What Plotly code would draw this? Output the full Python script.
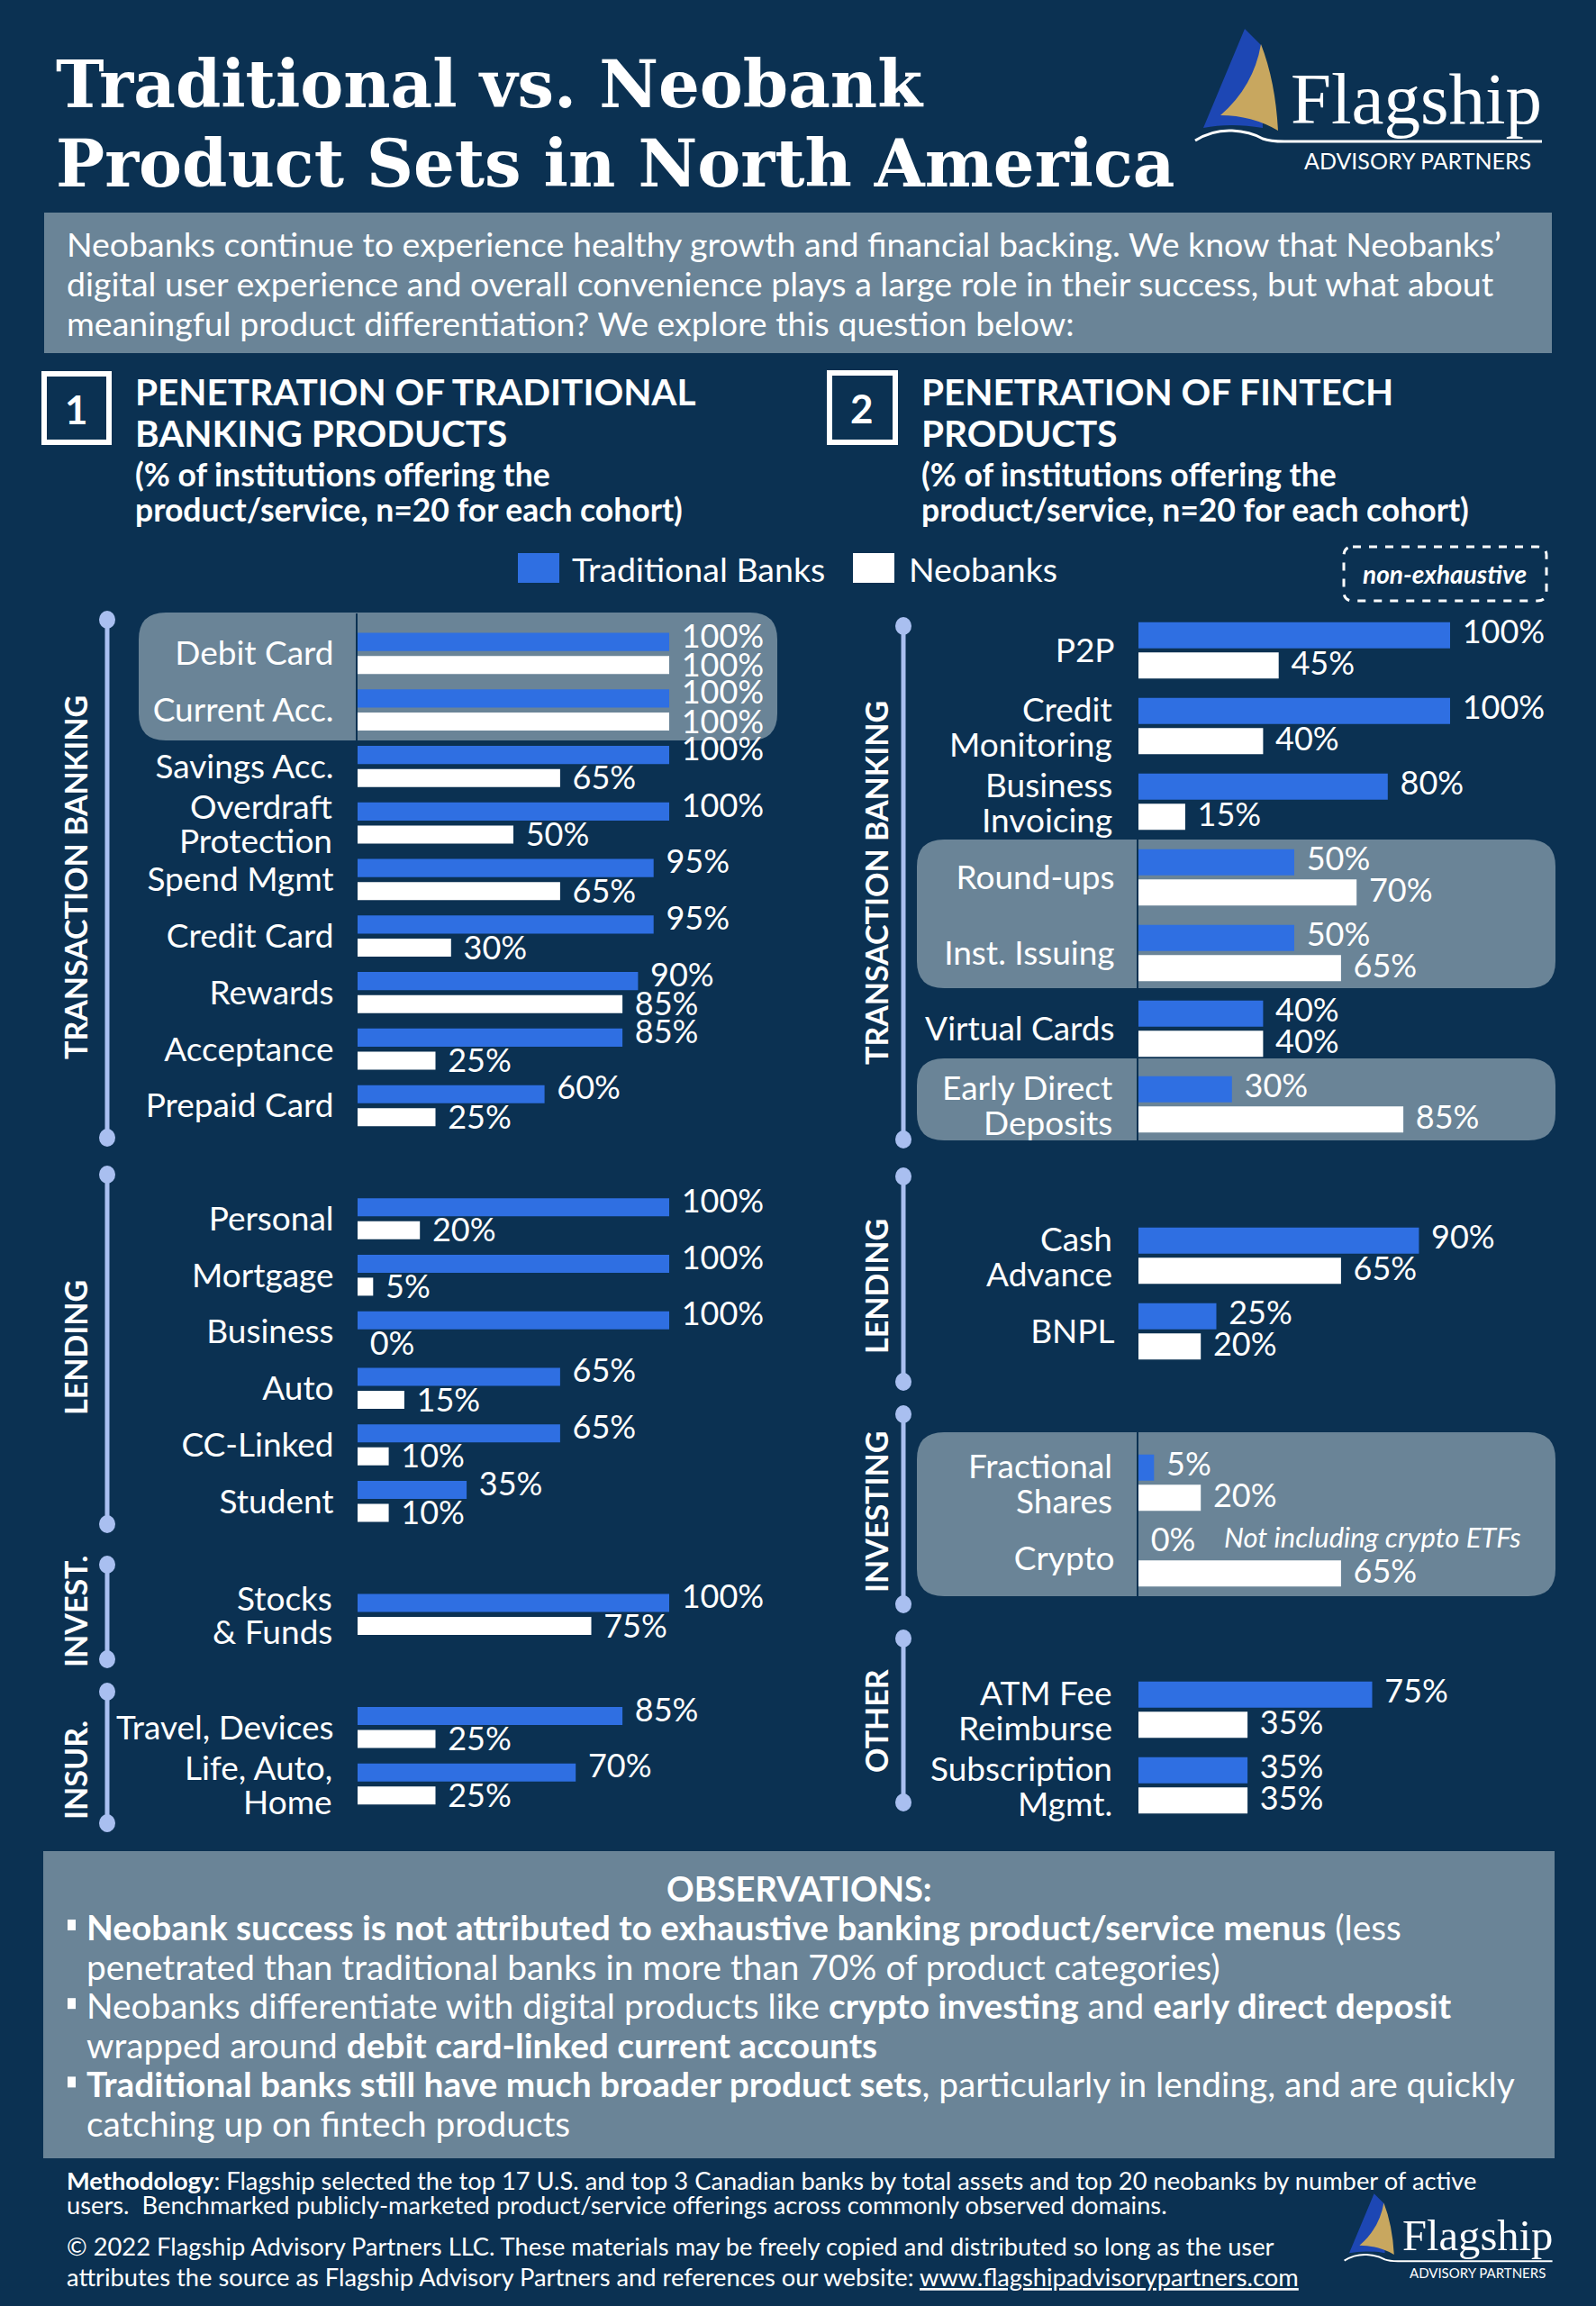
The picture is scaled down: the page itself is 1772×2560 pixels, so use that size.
import plotly.graph_objects as go

W, H = 1772, 2560
BG = "#0b3152"
SLATE = "#6a8497"
BLUE = "#2f6fe2"
NEO = "#ffffff"
LINEC = "#a9bff0"
FONT = "Lato"

# ---------------- data ----------------
left_groups = ["TRANSACTION BANKING", "LENDING", "INVEST.", "INSUR."]
left_cats = [
    ["Debit Card", "Current Acc.", "Savings Acc.", "Overdraft<br>Protection", "Spend Mgmt",
     "Credit Card", "Rewards", "Acceptance", "Prepaid Card"],
    ["Personal", "Mortgage", "Business", "Auto", "CC-Linked", "Student"],
    ["Stocks<br>& Funds"],
    ["Travel, Devices", "Life, Auto,<br>Home"],
]
left_trad = [[100, 100, 100, 100, 95, 95, 90, 85, 60],
             [100, 100, 100, 65, 65, 35],
             [100],
             [85, 70]]
left_neo = [[100, 100, 65, 50, 65, 30, 85, 25, 25],
            [20, 5, 0, 15, 10, 10],
            [75],
            [25, 25]]

right_groups = ["TRANSACTION BANKING", "LENDING", "INVESTING", "OTHER"]
right_cats = [
    ["P2P", "Credit<br>Monitoring", "Business<br>Invoicing", "Round-ups", "Inst. Issuing",
     "Virtual Cards", "Early Direct<br>Deposits"],
    ["Cash<br>Advance", "BNPL"],
    ["Fractional<br>Shares", "Crypto"],
    ["ATM Fee<br>Reimburse", "Subscription<br>Mgmt."],
]
right_trad = [[100, 100, 80, 50, 50, 40, 30],
              [90, 25],
              [5, 0],
              [75, 35]]
right_neo = [[45, 40, 15, 70, 65, 40, 85],
             [65, 20],
             [20, 65],
             [35, 35]]

series_names = ["Traditional Banks", "Neobanks"]


def X(px):
    return px / W


def Y(py):
    return 1 - py / H


def flatten(cats, trad, neo):
    pos, labels, t, n = [], [], [], []
    k = 0
    for gi, grp in enumerate(cats):
        for i, c in enumerate(grp):
            pos.append(k + gi)
            labels.append(c)
            t.append(trad[gi][i])
            n.append(neo[gi][i])
            k += 1
    return pos, labels, t, n


fig = go.Figure()
shapes = []
ann = []

VAL_SIZE = 36
CAT_SIZE = 37


def add_panel(cats, trad, neo, xa, ya, h, g, up, down, label_right_px, line_half):
    pos, labels, t, n = flatten(cats, trad, neo)
    fig.add_trace(go.Bar(orientation="h", x=t, y=pos, width=h, offset=-(g / 2 + h),
                         marker=dict(color=BLUE, line=dict(width=0)), name=series_names[0],
                         xaxis=xa, yaxis=ya, showlegend=False, hoverinfo="skip"))
    fig.add_trace(go.Bar(orientation="h", x=n, y=pos, width=h, offset=g / 2,
                         marker=dict(color=NEO, line=dict(width=0)), name=series_names[1],
                         xaxis=xa, yaxis=ya, showlegend=False, hoverinfo="skip"))
    d = g / 2 + h / 2
    fig.add_trace(go.Scatter(x=t, y=[p - d - up for p in pos], mode="text",
                             text=[f"\u2009\u00a0{v}%" for v in t], textposition="middle right",
                             textfont=dict(family=FONT, size=VAL_SIZE, color="white"),
                             cliponaxis=False, xaxis=xa, yaxis=ya, showlegend=False, hoverinfo="skip"))
    fig.add_trace(go.Scatter(x=n, y=[p + d + down for p in pos], mode="text",
                             text=[f"\u2009\u00a0{v}%" for v in n], textposition="middle right",
                             textfont=dict(family=FONT, size=VAL_SIZE, color="white"),
                             cliponaxis=False, xaxis=xa, yaxis=ya, showlegend=False, hoverinfo="skip"))
    # multi-line category labels drawn line by line (tighter line spacing than tick labels)
    ticktext = []
    for p, lab in zip(pos, labels):
        if "<br>" in lab:
            ticktext.append("")
            a, b = lab.split("<br>")
            for txt, yy in ((a, p - line_half), (b, p + line_half)):
                ann.append(dict(x=X(label_right_px), xref="paper", y=yy, yref=ya, text=txt,
                                showarrow=False, xanchor="right", yanchor="middle",
                                font=dict(family=FONT, size=CAT_SIZE, color="white")))
        else:
            ticktext.append(lab)
    return pos, ticktext


lpos, llab = add_panel(left_cats, left_trad, left_neo, "x", "y", 0.319, 0.088, 0.05, 0.06, 371, 0.30)
rpos, rlab = add_panel(right_cats, right_trad, right_neo, "x2", "y2", 0.345, 0.054, 0.0, 0.01, 1237, 0.232)


def yax(pos, labels, top_px, bottom_px, rng, anchor):
    return dict(domain=[Y(bottom_px), Y(top_px)], range=rng, anchor=anchor,
                tickvals=pos, ticktext=labels, showgrid=False, zeroline=False,
                showline=True, linecolor=BG, linewidth=2, ticks="", ticklabelstandoff=17,
                ticklabeloverflow="allow",
                tickfont=dict(family=FONT, size=CAT_SIZE, color="white"), fixedrange=True)


def xax(x0, x1, anchor):
    return dict(domain=[X(x0), X(x1)], range=[0, 100], anchor=anchor, visible=False,
                showgrid=False, zeroline=False, fixedrange=True)


# ---------------- helpers for shapes ----------------
def rrect(x0, y0, x1, y1, r, fill=None, line=None, dash=None, lw=0, layer="below"):
    p = (f"M{X(x0 + r)},{Y(y0)} L{X(x1 - r)},{Y(y0)} Q{X(x1)},{Y(y0)} {X(x1)},{Y(y0 + r)} "
         f"L{X(x1)},{Y(y1 - r)} Q{X(x1)},{Y(y1)} {X(x1 - r)},{Y(y1)} "
         f"L{X(x0 + r)},{Y(y1)} Q{X(x0)},{Y(y1)} {X(x0)},{Y(y1 - r)} "
         f"L{X(x0)},{Y(y0 + r)} Q{X(x0)},{Y(y0)} {X(x0 + r)},{Y(y0)} Z")
    s = dict(type="path", path=p, xref="paper", yref="paper", layer=layer,
             fillcolor=fill if fill else "rgba(0,0,0,0)",
             line=dict(color=line if line else "rgba(0,0,0,0)", width=lw))
    if dash:
        s["line"]["dash"] = dash
    shapes.append(s)


def rect(x0, y0, x1, y1, fill=None, line=None, lw=0, layer="below"):
    shapes.append(dict(type="rect", xref="paper", yref="paper", x0=X(x0), x1=X(x1), y0=Y(y1), y1=Y(y0),
                       fillcolor=fill if fill else "rgba(0,0,0,0)", layer=layer,
                       line=dict(color=line if line else "rgba(0,0,0,0)", width=lw)))


def text(x, y, s, size, color="white", xanchor="left", yanchor="middle", family=FONT, angle=0, **kw):
    ann.append(dict(x=X(x), y=Y(y), xref="paper", yref="paper", text=s, showarrow=False,
                    xanchor=xanchor, yanchor=yanchor, textangle=angle,
                    font=dict(family=family, size=size, color=color), **kw))


def path_shape(pts_str, fill=None, line=None, lw=0):
    shapes.append(dict(type="path", path=pts_str, xref="paper", yref="paper", layer="above",
                       fillcolor=fill if fill else "rgba(0,0,0,0)",
                       line=dict(color=line if line else "rgba(0,0,0,0)", width=lw)))


def logo(ox, oy, s):
    def P(x, y):
        return f"{X(ox + x * s)},{Y(oy + y * s)}"
    blue = f"M{P(56,2)} L{P(10,112)} Q{P(40,106)} {P(76,112)} L{P(74,20)} Z"
    gold = f"M{P(74,19)} Q{P(66,66)} {P(29,98)} Q{P(64,98)} {P(93,115)} Q{P(90,60)} {P(74,19)} Z"
    sw = f"M{P(1,126)} Q{P(20,114)} {P(42,115)} Q{P(62,116)} {P(76,124)} Q{P(84,127)} {P(100,127)} L{P(386,127)}"
    path_shape(blue, fill="#1d47b4")
    path_shape(gold, fill="#c8a75f")
    path_shape(sw, line="white", lw=max(2, 3 * s))
    text(ox + 105 * s, oy + 80 * s, "Flagship", 81 * s, family="Liberation Serif")
    text(ox + 248 * s, oy + 148 * s, "ADVISORY PARTNERS", 25 * s, xanchor="center")


# ---------------- header ----------------
text(60, 93, "<b>Traditional vs. Neobank</b>", 72, family="DejaVu Serif")
text(60, 182, "<b>Product Sets in North America</b>", 72, family="DejaVu Serif")
logo(1326, 30, 1.0)

rect(49, 236, 1723, 392, fill=SLATE)
intro = ["Neobanks continue to experience healthy growth and financial backing. We know that Neobanks\u2019",
         "digital user experience and overall convenience plays a large role in their success, but what about",
         "meaningful product differentiation? We explore this question below:"]
for i, line in enumerate(intro):
    text(72, 271 + i * 43.5, line, 37.5)

# section headers
rect(49, 415, 121, 491, line="white", lw=6, layer="above")
text(85, 454, "<b>1</b>", 44, xanchor="center")
text(148, 434, "<b>PENETRATION OF TRADITIONAL</b>", 40.5)
text(148, 481, "<b>BANKING PRODUCTS</b>", 40.5)
text(148, 526, "<b>(% of institutions offering the</b>", 35.5)
text(148, 565, "<b>product/service, n=20 for each cohort)</b>", 35.5)

rect(921, 414, 994, 491, line="white", lw=6, layer="above")
text(957, 453, "<b>2</b>", 44, xanchor="center")
text(1021, 434, "<b>PENETRATION OF FINTECH</b>", 40.5)
text(1021, 481, "<b>PRODUCTS</b>", 40.5)
text(1021, 526, "<b>(% of institutions offering the</b>", 35.5)
text(1021, 565, "<b>product/service, n=20 for each cohort)</b>", 35.5)

# legend (manual)
rect(575, 614, 621, 647, fill=BLUE, layer="above")
text(633, 631, series_names[0], 37.5)
rect(947, 614, 993, 647, fill=NEO, layer="above")
text(1007, 631, series_names[1], 37.5)

rrect(1492, 607, 1717, 667, 10, line="white", dash="dash", lw=3, layer="above")
text(1604, 637, "<b><i>non-exhaustive</i></b>", 28, xanchor="center")

# highlight boxes
rrect(154, 680, 863, 822, 30, fill=SLATE)
rrect(1018, 932, 1727, 1097, 30, fill=SLATE)
rrect(1018, 1175, 1727, 1266, 30, fill=SLATE)
rrect(1018, 1590, 1727, 1772, 30, fill=SLATE)

text(1357, 1706, "<i>Not including crypto ETFs</i>", 31)


# group rails
def rails(x, segs, labels, label_x, label_ys):
    for (a, b), lab, ly in zip(segs, labels, label_ys):
        shapes.append(dict(type="line", xref="paper", yref="paper", x0=X(x), x1=X(x), y0=Y(a), y1=Y(b),
                           line=dict(color=LINEC, width=5), layer="above"))
        for c in (a, b):
            shapes.append(dict(type="circle", xref="paper", yref="paper", x0=X(x - 9), x1=X(x + 9),
                               y0=Y(c + 10), y1=Y(c - 10), fillcolor=LINEC,
                               line=dict(color=LINEC, width=0), layer="above"))
        text(label_x, ly, f"<b>{lab}</b>", 34, xanchor="center", angle=-90)


rails(119, [(688, 1263), (1304, 1692), (1737, 1842), (1878, 2024)], left_groups, 83, [974, 1496, 1789, 1965])
rails(1003, [(695, 1265), (1306, 1534), (1570, 1781), (1819, 2001)], right_groups, 972, [980, 1428, 1679, 1911])

# observations
rect(48, 2055, 1726, 2396, fill=SLATE)
text(887, 2096, "<b>OBSERVATIONS:</b>", 38, xanchor="center")
obs = [
    (True, "<b>Neobank success is not attributed to exhaustive banking product/service menus</b> (less"),
    (False, "penetrated than traditional banks in more than 70% of product categories)"),
    (True, "Neobanks differentiate with digital products like <b>crypto investing</b> and <b>early direct deposit</b>"),
    (False, "wrapped around <b>debit card-linked current accounts</b>"),
    (True, "<b>Traditional banks still have much broader product sets</b>, particularly in lending, and are quickly"),
    (False, "catching up on fintech products"),
]
for i, (bullet, line) in enumerate(obs):
    yy = 2139 + i * 43.6
    if bullet:
        rect(75, yy - 8, 84, yy + 4, fill="white", layer="above")
    text(94, yy, line, 38.8)

# footer
FS = 27.3
text(72, 2420, "<b>Methodology</b>: Flagship selected the top 17 U.S. and top 3 Canadian banks by total assets and top 20 neobanks by number of active", FS)
text(72, 2447, "users.  Benchmarked publicly-marketed product/service offerings across commonly observed domains.", FS)
text(72, 2493, "\u00a9 2022 Flagship Advisory Partners LLC. These materials may be freely copied and distributed so long as the user", FS)
text(72, 2527, "attributes the source as Flagship Advisory Partners and references our website: <u>www.flagshipadvisorypartners.com</u>", FS)
logo(1492, 2434, 0.6)

fig.update_layout(
    width=W, height=H, autosize=False,
    margin=dict(l=0, r=0, t=0, b=0, pad=0),
    paper_bgcolor=BG, plot_bgcolor="rgba(0,0,0,0)",
    barmode="overlay", showlegend=False,
    xaxis=xax(397, 743, "y"),
    yaxis=yax(lpos, llab, 725.4 - 0.7 * 62.75, 725.4 + 20.7 * 62.75, [20.7, -0.7], "x"),
    xaxis2=xax(1264, 1610, "y2"),
    yaxis2=yax(rpos, rlab, 722 - 0.7 * 84, 722 + 15.7 * 84, [15.7, -0.7], "x2"),
    shapes=shapes, annotations=ann,
    font=dict(family=FONT, color="white"),
)

fig.write_html("out.html", config={"displayModeBar": False, "staticPlot": True})
